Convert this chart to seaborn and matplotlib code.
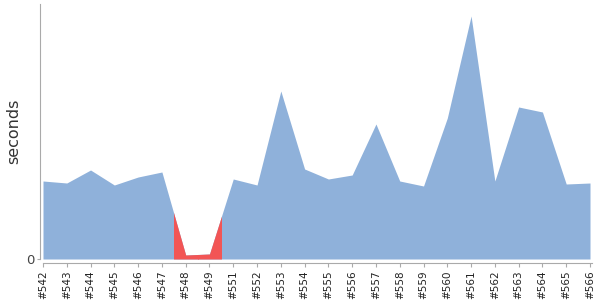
import numpy as np
import pandas as pd
import matplotlib
matplotlib.use("Agg")
import matplotlib.pyplot as plt
import matplotlib.patches as mpatches
import seaborn as sns

builds = ["#542", "#543", "#544", "#545", "#546", "#547", "#548", "#549",
          "#551", "#552", "#553", "#554", "#555", "#556", "#557", "#558",
          "#559", "#560", "#561", "#562", "#563", "#564", "#565", "#566"]
durations = [78, 76, 89, 74, 82, 87, 4, 5,
             80, 74, 168, 90, 80, 84, 135, 78,
             73, 141, 243, 78, 152, 147, 75, 76]
status = ["ok"] * 6 + ["fail", "fail"] + ["ok"] * 16

BLUE = "#8fb1da"
RED = "#f25555"

sns.set_theme(style="white")
plt.rcParams["font.family"] = ["DejaVu Sans"]

df = pd.DataFrame({"pos": np.arange(len(builds)), "build": builds,
                   "seconds": durations, "status": status})

fig = plt.figure(figsize=(6, 3), dpi=100)
ax = fig.add_axes([40 / 600, (300 - 259) / 300, 552 / 600, 255 / 300])

sns.lineplot(data=df, x="pos", y="seconds", ax=ax, lw=0, color=BLUE)
ax.fill_between(df["pos"], 0, df["seconds"], color=BLUE, lw=0)

# colour each build's slice (midpoint to midpoint) by its status
n = len(df)
for i, st in enumerate(df["status"]):
    if st != "ok":
        x0 = max(i - 0.5, 0)
        x1 = min(i + 0.5, n - 1)
        poly = ax.fill_between(df["pos"], 0, df["seconds"], color=RED, lw=0)
        rect = mpatches.Rectangle((x0, 0), x1 - x0, 1000, transform=ax.transData)
        poly.set_clip_path(rect)

ax.set_xlim(-3 / 23.78, n - 1 + 2 / 23.78)
ax.set_ylim(0, 255)
ax.set_xticks(df["pos"].tolist())
ax.set_xticklabels(df["build"].tolist())
ax.set_yticks([0])
ax.set_yticklabels(["0"])
ax.set_xlabel("")
ax.set_ylabel("seconds", fontsize=11.5, color="#333333")
ax.yaxis.set_label_coords(-19 / 552, 0.5)

for s in ["top", "right"]:
    ax.spines[s].set_visible(False)
ax.spines["left"].set_color("#aaaaaa")
ax.spines["bottom"].set_color("#aaaaaa")
ax.spines["left"].set_linewidth(0.8)
ax.spines["bottom"].set_linewidth(0.8)
ax.spines["bottom"].set_position(("outward", 3))
ax.spines["bottom"].set_bounds(0, n - 1 + 2 / 23.78)
ax.tick_params(axis="x", bottom=True, length=3, width=0.8, color="#aaaaaa",
               pad=2, labelrotation=90, labelsize=7.5, labelcolor="#222222")
ax.tick_params(axis="y", left=True, length=2, width=0.8, color="#aaaaaa",
               pad=2, labelsize=9.5, labelcolor="#444444")

fig.savefig("out.png", dpi=100)
